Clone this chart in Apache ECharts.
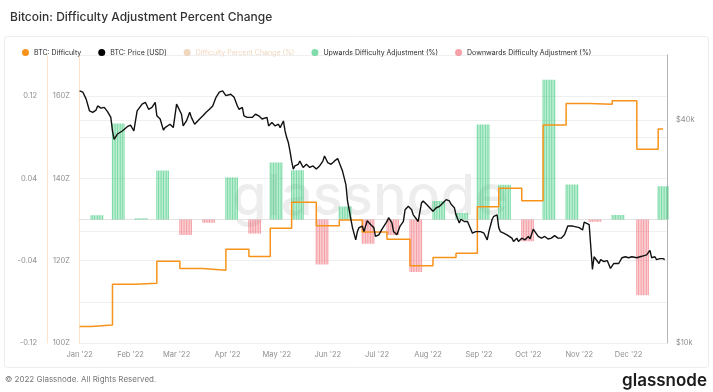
<!DOCTYPE html>
<html>
<head>
<meta charset="utf-8">
<script src="https://cdn.jsdelivr.net/npm/echarts@6/dist/echarts.min.js"></script>
<style>
html,body{margin:0;padding:0;background:#fff;}
#c{width:713px;height:392px;}
</style>
</head>
<body>
<div id="c"></div>
<script>
// ---- data ----
const monthNames = ['Jan','Feb','Mar','Apr','May','Jun','Jul','Aug','Sep','Oct','Nov','Dec'];
const pctTickLabels = ['-0.12', '-0.04', '0.04', '0.12'];
const diffTickLabels = [100, 120, 140, 160];
const priceTickLabels = [10, 40]; // $k

// Difficulty adjustments: day of year 2022 (0 = Jan 1) and percent change
const adjDays = [7, 20, 34, 47, 61, 75, 89, 103, 116, 129, 144, 158, 172, 187, 201, 215, 229, 242, 255, 269, 282, 296, 310, 324, 339, 352];
const adjPct  = [0.0041, 0.0933, 0.0012, 0.0476, -0.0149, -0.0032, 0.041, -0.0136, 0.0555, 0.048, -0.0436, 0.0126, -0.0235, -0.015, -0.051, 0.018, 0.0065, 0.0924, 0.0339, -0.021, 0.136, 0.034, -0.0022, 0.0045, -0.0736, 0.0324];
const adjBarDays = 8; // each adjustment drawn as daily bars for this many days

// Difficulty level (step line), axis units "Z"
const diffDays = [0, 7, 20, 34, 47, 61, 75, 89, 103, 116, 129, 144, 158, 172, 187, 201, 215, 229, 242, 255, 269, 282, 296, 310, 324, 339, 352, 355];
const diffZ    = [104.0, 104.4, 114.3, 114.5, 119.9, 118.1, 117.7, 122.8, 121.0, 127.9, 134.2, 128.5, 129.9, 127.0, 125.2, 118.8, 120.8, 121.8, 133.1, 137.6, 134.6, 153.0, 158.2, 158.0, 158.9, 147.1, 152.0, 152.0];

// BTC price (USD)
const priceDays = [0,2,4,6,8,10,11,13,15,17,19,20,21,23,26,29,31,33,34,35,38,40,42,44,46,47,49,51,52,55,57,59,60,62,63,65,67,68,70,71,73,75,77,79,81,83,85,87,89,90,92,94,96,97,99,100,102,103,105,107,109,111,114,115,117,119,121,122,124,125,126,127,128,129,130,131,133,134,136,138,140,142,144,146,148,149,151,153,155,157,158,160,162,163,164,165,166,168,169,170,172,173,175,177,179,180,182,184,187,188,190,191,193,195,197,198,200,202,203,205,206,208,209,211,213,215,217,219,221,223,225,226,228,229,231,232,234,236,238,239,241,242,244,246,248,249,251,252,254,255,256,258,260,263,264,266,267,269,271,273,274,276,277,279,281,283,285,287,289,291,293,295,297,298,300,302,304,306,307,308,310,311,312,313,314,316,317,319,321,323,325,326,328,330,332,334,336,339,341,343,345,347,348,350,351,353,355,356];
const priceUSD = [48000,47600,45600,42400,42000,42600,43700,43100,43300,42200,40700,37400,35500,36700,37400,38400,38800,37400,39800,42400,44200,44700,42800,43300,44700,41100,40300,37600,38200,39000,38200,44200,43700,41500,38600,39800,42000,40700,39000,38600,40300,41100,42000,42800,43700,46100,47600,48000,46600,46300,47000,46100,43700,42800,43300,41100,40700,41100,40700,41500,41100,40300,40700,38600,39400,38600,39000,38200,39800,37400,35900,34800,33000,31000,29500,30100,30400,31000,29800,30400,29800,30100,29500,30100,31000,32000,30700,30400,31000,31500,30700,29100,26800,24200,22900,22700,20500,19000,20000,20500,20700,20000,21400,20900,20500,19400,19600,20300,21300,21800,21100,20000,19600,20700,21300,22900,23400,22900,22200,21600,21300,23900,24200,23700,23200,22700,23200,23400,23900,24400,24200,23700,23200,22200,21100,21600,21300,21300,20300,19800,20000,19800,20000,19800,19000,20000,21600,22000,22200,20500,20000,19800,19600,19200,18800,19200,18800,19200,19000,19400,19100,20300,20000,19400,19200,19400,19100,19200,19500,19200,19200,19600,20700,20900,20700,20600,20500,20200,21200,21300,20900,18200,15800,17100,17000,16400,16800,16600,16700,15900,16400,16600,16400,17000,17100,17000,17100,17000,17100,17200,17300,17800,17000,17100,16800,16900,16900,16800];

// ---- build series data ----
const DAY = 86400000;
const T0 = Date.UTC(2022, 0, 1);
const t = d => T0 + d * DAY;

const diffData = diffDays.map((d, i) => [t(d), diffZ[i]]);
const priceData = priceDays.map((d, i) => [t(d), priceUSD[i]]);
const pctData = adjDays.map((d, i) => [t(d), adjPct[i]]);
const upData = [], downData = [];
adjDays.forEach((d, i) => {
  for (let k = 0; k < adjBarDays; k++) {
    (adjPct[i] >= 0 ? upData : downData).push([t(d + k), adjPct[i]]);
  }
});

const FONT = 'Inter, "Noto Sans", sans-serif';
const axisLblColor = '#8f8f8f';
const chart = echarts.init(document.getElementById('c'), null, {renderer: 'canvas'});

chart.setOption({
  backgroundColor: '#fff',
  animation: false,
  textStyle: {fontFamily: FONT},
  title: {
    text: 'Bitcoin: Difficulty Adjustment Percent Change',
    left: 5, top: 6,
    textStyle: {fontSize: 12, fontWeight: 500, color: '#333', fontFamily: FONT}
  },
  legend: {
    left: 17, top: 44,
    icon: 'circle', itemWidth: 7, itemHeight: 7, itemGap: 17,
    textStyle: {fontSize: 7, color: '#2a2a2a', fontFamily: FONT},
    inactiveColor: '#f0d6bd',
    data: ['BTC: Difficulty', 'BTC: Price [USD]', 'Difficulty Percent Change (%)', 'Upwards Difficulty Adjustment (%)', 'Downwards Difficulty Adjustment (%)'],
    selected: {'Difficulty Percent Change (%)': false}
  },
  grid: {left: 79, right: 46, top: 55, bottom: 49},
  xAxis: {
    type: 'time',
    min: t(0), max: t(357),
    splitNumber: 12,
    minInterval: 28 * DAY,
    axisLine: {show: true, lineStyle: {color: '#e2e2e2'}},
    axisTick: {show: false},
    splitLine: {show: false},
    axisLabel: {
      color: axisLblColor, fontSize: 7.5, margin: 8, fontFamily: FONT,
      hideOverlap: false,
      formatter: v => {
        const d = new Date(v);
        return d.getUTCDate() === 1 ? monthNames[d.getUTCMonth()] + " '22" : '';
      }
    }
  },
  yAxis: [
    { // percent change
      type: 'value', position: 'left', offset: 32,
      min: -0.12, max: 0.16, interval: 0.04,
      axisLine: {show: true, lineStyle: {color: '#fde4cb'}},
      axisTick: {show: false},
      splitLine: {show: true, lineStyle: {color: '#efefef'}},
      axisLabel: {
        color: axisLblColor, fontSize: 7.5, margin: 10, fontFamily: FONT,
        padding: [0, 0, 7, 0],
        formatter: v => {
          const s = String(+v.toFixed(2));
          return pctTickLabels.indexOf(s) >= 0 ? s : '';
        }
      }
    },
    { // difficulty
      type: 'value', position: 'left', offset: 0,
      min: 100, max: 170, interval: 10,
      axisLine: {show: true, lineStyle: {color: '#fde4cb'}},
      axisTick: {show: false},
      splitLine: {show: false},
      axisLabel: {
        color: axisLblColor, fontSize: 7.5, margin: 9, fontFamily: FONT,
        padding: [0, 0, 7, 0],
        formatter: v => {
          const r = Math.round(v);
          return diffTickLabels.indexOf(r) >= 0 ? r + 'Z' : '';
        }
      }
    },
    { // price, log base 2
      type: 'log', logBase: 2, position: 'right',
      min: 10000, max: 60000, interval: 1,
      axisLine: {show: true, lineStyle: {color: '#b5b5b5'}},
      axisTick: {show: false},
      splitLine: {show: true, lineStyle: {color: '#efefef'}},
      axisLabel: {
        color: axisLblColor, fontSize: 7.5, margin: 9, fontFamily: FONT,
        padding: [0, 0, 7, 0],
        formatter: v => {
          const r = Math.round(v / 1000);
          return priceTickLabels.indexOf(r) >= 0 ? '$' + r + 'k' : '';
        }
      }
    }
  ],
  graphic: [
    {type: 'rect', z: -10, silent: true,
     shape: {x: 4.5, y: 36.5, width: 704, height: 331, r: 3},
     style: {fill: 'none', stroke: '#ececec', lineWidth: 1}},
    {type: 'text', z: -5, silent: true, left: 232, top: 170,
     style: {text: 'glassnode', font: '500 56px ' + FONT, fill: 'rgba(0,0,0,0.07)'}},
    {type: 'text', silent: true, left: 5, top: 376,
     style: {text: '\u00a9 2022 Glassnode. All Rights Reserved.', font: '8px ' + FONT, fill: '#777'}},
    {type: 'text', silent: true, right: 6, top: 372,
     style: {text: 'glassnode', font: '600 17px ' + FONT, fill: '#1b1b1b'}}
  ],
  series: [
    {
      name: 'Upwards Difficulty Adjustment (%)', type: 'bar', yAxisIndex: 0,
      data: upData, barWidth: 1.2, barGap: '-100%', z: 2,
      itemStyle: {color: 'rgba(40,196,110,0.6)'}
    },
    {
      name: 'Downwards Difficulty Adjustment (%)', type: 'bar', yAxisIndex: 0,
      data: downData, barWidth: 1.2, barGap: '-100%', z: 2,
      itemStyle: {color: 'rgba(238,98,108,0.6)'}
    },
    {
      name: 'Difficulty Percent Change (%)', type: 'line', yAxisIndex: 0,
      data: pctData, showSymbol: false, symbol: 'none',
      itemStyle: {color: '#f7931a'}, lineStyle: {color: '#f7931a', width: 1.2}
    },
    {
      name: 'BTC: Difficulty', type: 'line', yAxisIndex: 1, step: 'end',
      data: diffData, symbol: 'none', z: 4,
      itemStyle: {color: '#f7931a'}, lineStyle: {color: '#f7931a', width: 1.5}
    },
    {
      name: 'BTC: Price [USD]', type: 'line', yAxisIndex: 2,
      data: priceData, symbol: 'none', z: 5,
      itemStyle: {color: '#000'}, lineStyle: {color: '#111', width: 1.4}
    }
  ]
});
</script>
</body>
</html>
